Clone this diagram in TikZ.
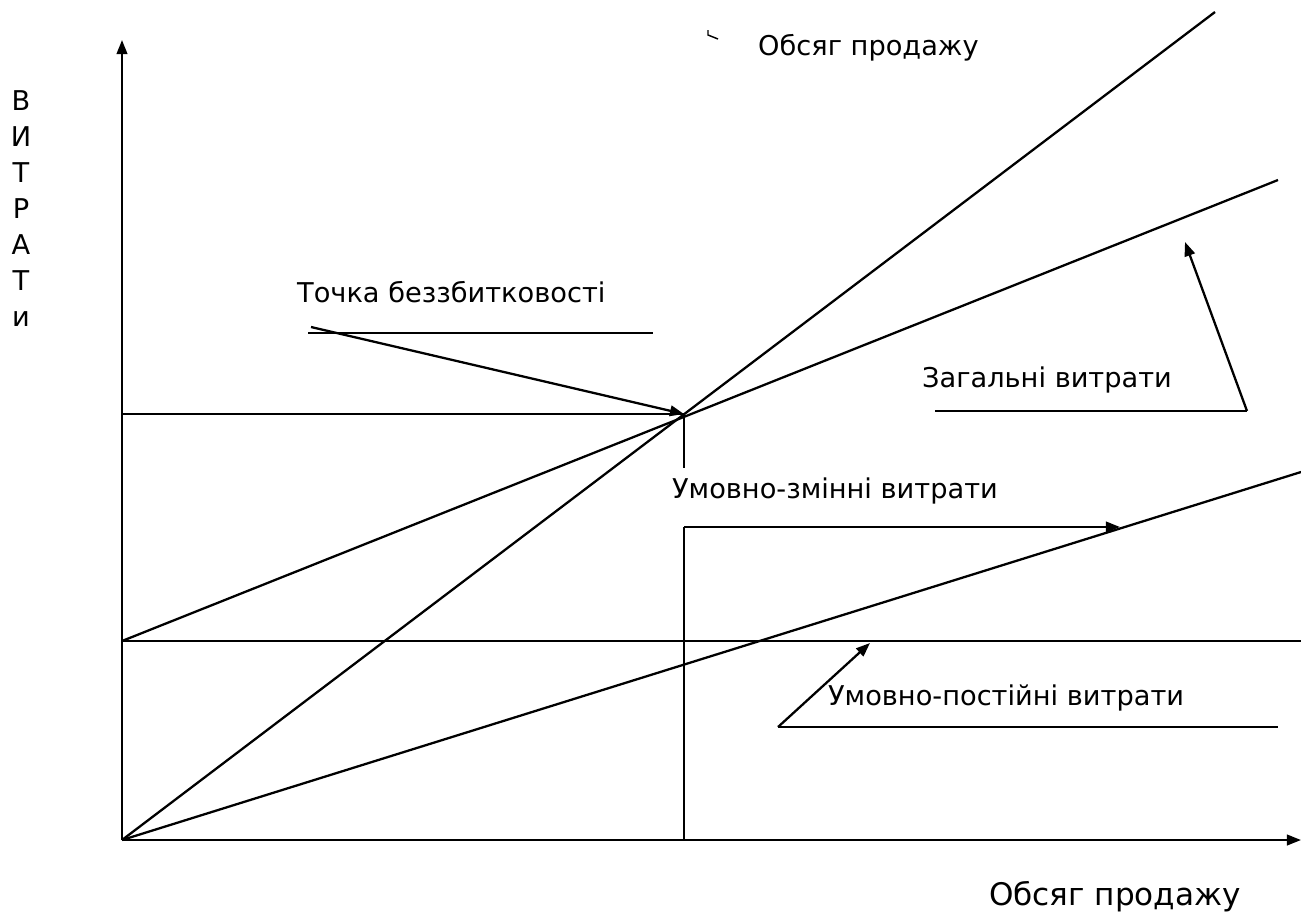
\documentclass[tikz,border=0pt]{standalone}
\usepackage{fontspec}
\setmainfont{DejaVu Sans}
\usetikzlibrary{arrows.meta}

\begin{document}
\begin{tikzpicture}[x=0.02cm,y=-0.02cm,>={Triangle[length=8pt,width=6pt]},line width=1.3pt]

    \tikzstyle{lbl}=[inner sep=0pt,anchor=base west,font=\fontsize{15.5}{18}\selectfont]
    \tikzstyle{biglbl}=[inner sep=0pt,anchor=base west,font=\fontsize{17.7}{21}\selectfont]
    \tikzstyle{vletter}=[inner sep=0pt,anchor=base,font=\fontsize{15.5}{18}\selectfont]
    \tikzstyle{axis}=[->]
    \tikzstyle{pointer}=[->]
    \useasboundingbox (0,0) rectangle (1301,921);

    % axes
    \coordinate (O) at (122,840);
    \coordinate (ytip) at (122,40);
    \coordinate (xtip) at (1301,840);
    \draw[axis] (O) -- (ytip);
    \draw[axis] (O) -- (xtip);

    % cost and sales lines
    \coordinate (fc0) at (122,641);
    \coordinate (fc1) at (1301,641);
    \coordinate (sales) at (1215,12);
    \coordinate (total) at (1278,180);
    \coordinate (var) at (1301,472);
    \draw (fc0) -- (fc1);
    \draw (O) -- (sales);
    \draw (fc0) -- (total);
    \draw (O) -- (var);

    % break-even point
    \coordinate (B) at (684,414);
    \coordinate (By) at (122,414);
    \coordinate (Bd) at (684,468);
    \draw (By) -- (B) -- (Bd);
    \coordinate (vtop) at (684,527);
    \coordinate (vbot) at (684,840);
    \coordinate (vcost) at (1120,527);
    \draw (vbot) -- (vtop);
    \draw[pointer] (vtop) -- (vcost);

    % labels
    \node[lbl] (bep) at (296,302) {Точка беззбитковості};
    \coordinate (bepl) at (308,333);
    \coordinate (bepr) at (653,333);
    \coordinate (beps) at (311,327);
    \draw (bepl) -- (bepr);
    \draw[pointer] (beps) -- (B);

    \node[lbl] (tcl) at (921,387) {Загальні витрати};
    \coordinate (tcl0) at (935,411);
    \coordinate (tcl1) at (1247,411);
    \coordinate (tcp) at (1185,242);
    \draw (tcl0) -- (tcl1);
    \draw[pointer] (tcl1) -- (tcp);

    \node[lbl] (vcl) at (671,498) {Умовно-змінні витрати};

    \node[lbl] (fcl) at (827,705) {Умовно-постійні витрати};
    \coordinate (fcl0) at (778,727);
    \coordinate (fcl1) at (1278,727);
    \coordinate (fcp) at (870,643);
    \draw (fcl0) -- (fcl1);
    \draw[pointer] (fcl0) -- (fcp);

    \node[lbl] (top) at (757,55) {Обсяг продажу};
    \draw[line width=0.8pt] (708,30) -- (708,35) -- (718,39);
    \node[biglbl] (xlab) at (988,905) {Обсяг продажу};

    \foreach \ch [count=\i] in {В,И,Т,Р,А,Т,и}
        \node[vletter] (v\i) at (21,74+36*\i) {\ch};

\end{tikzpicture}
\end{document}
